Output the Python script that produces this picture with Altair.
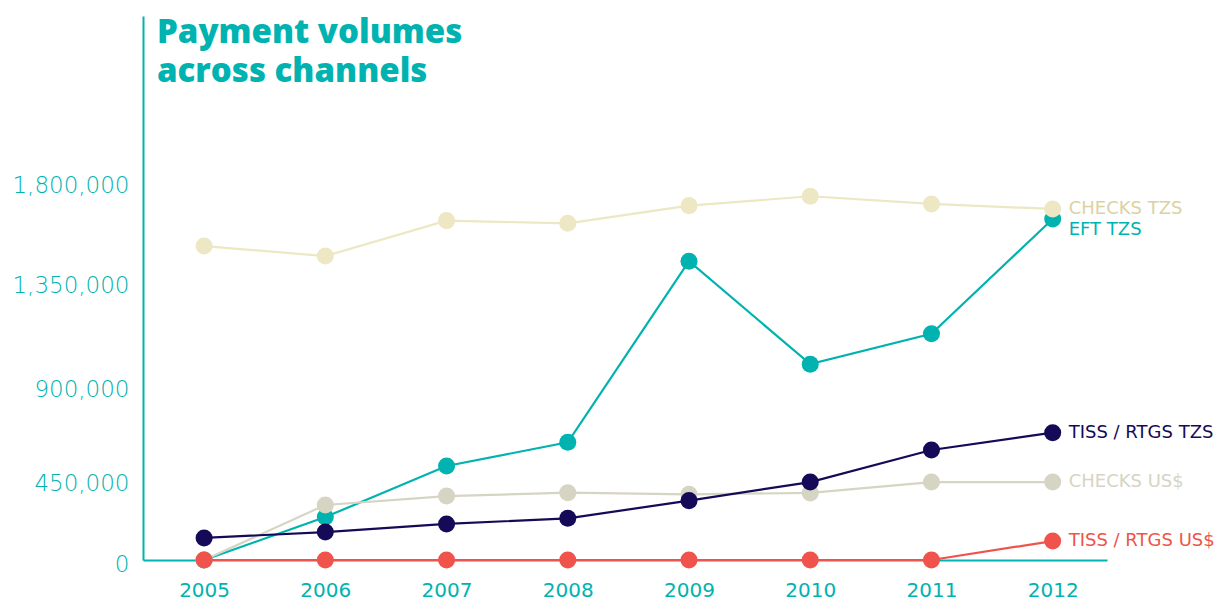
import altair as alt
import pandas as pd

years = [2005, 2006, 2007, 2008, 2009, 2010, 2011, 2012]
checks_tzs = [1507000, 1459000, 1629000, 1616000, 1701000, 1746000, 1709000, 1685000]
eft_tzs = [0, 206000, 451000, 565000, 1434000, 940000, 1086000, 1637000]
tiss_tzs = [106000, 134000, 173000, 200000, 285000, 374000, 528000, 611000]
checks_usd = [0, 264000, 307000, 323000, 315000, 322000, 374000, 374000]
tiss_usd = [0, 0, 0, 0, 0, 0, 0, 91000]

series_names = ["EFT TZS", "CHECKS US$", "TISS / RTGS TZS", "TISS / RTGS US$", "CHECKS TZS"]
series_values = [eft_tzs, checks_usd, tiss_tzs, tiss_usd, checks_tzs]
line_colors = ["#00b3b0", "#d6d4c2", "#140a57", "#ef534b", "#ede7c4"]
label_colors = ["#00b3b0", "#d6d4c2", "#140a57", "#ef534b", "#dbd2a2"]
label_dy = [11, 0, 0, 0, 0]

y_ticks = [0, 450000, 900000, 1350000, 1800000]
title_lines = ["Payment volumes", "across channels"]

TEAL = "#00b3b0"
W, H = 964, 544

x_scale = alt.Scale(domain=[2004.496, 2012.448], nice=False, zero=False)
y_scale = alt.Scale(domain=[0, 2611200], nice=False)

x_axis = alt.Axis(values=years, format="d", grid=False, ticks=False,
                  domainColor=TEAL, domainWidth=2, labelColor=TEAL,
                  labelFont="DejaVu Sans", labelFontSize=20, labelPadding=20,
                  labelFontWeight=500,
                  title=None, labelFlush=False)
y_axis = alt.Axis(values=y_ticks, format=",d", grid=False, ticks=False,
                  domainColor=TEAL, domainWidth=2, labelColor=TEAL,
                  labelFont="DejaVu Sans", labelFontSize=23, labelPadding=14,
                  labelFontWeight=300,
                  labelOffset={
                      "condition": [
                          {"test": "datum.value == 450000", "value": 17},
                          {"test": "datum.value == 900000", "value": 17},
                          {"test": "datum.value == 1350000", "value": 7},
                          {"test": "datum.value == 0", "value": 4},
                      ],
                      "value": 0,
                  },
                  title=None, labelFlush=False)

enc_x = alt.X("year:Q", scale=x_scale, axis=x_axis)
enc_y = alt.Y("value:Q", scale=y_scale, axis=y_axis)

layers = []
for i, (name, vals) in enumerate(zip(series_names, series_values)):
    df = pd.DataFrame({"year": years, "value": vals, "series": name})
    base = alt.Chart(df)
    line = base.mark_line(color=line_colors[i], strokeWidth=2.2).encode(x=enc_x, y=enc_y)
    pts = base.mark_circle(color=line_colors[i], size=290, opacity=1).encode(x=enc_x, y=enc_y)
    lab = alt.Chart(df[df["year"] == years[-1]]).mark_text(
        align="left", baseline="middle", dx=16, dy=label_dy[i],
        font="DejaVu Sans", fontSize=18, color=label_colors[i]
    ).encode(x=enc_x, y=enc_y, text="series:N")
    layers += [line, pts, lab]

title = alt.Chart(pd.DataFrame({"t": [0]})).mark_text(
    text=title_lines, align="left", baseline="alphabetic", lineHeight=39,
    font="Open Sans", fontWeight=800, fontSize=33, color=TEAL
).encode(x=alt.value(14), y=alt.value(27))

chart = alt.layer(*layers, title).properties(
    width=W, height=H,
    autosize=alt.AutoSizeParams(type="none"),
    padding={"left": 143, "top": 16, "right": 120, "bottom": 39},
).configure(background="white").configure_view(stroke=None)

chart.save("out.html", embed_options={"renderer": "svg", "actions": False})
